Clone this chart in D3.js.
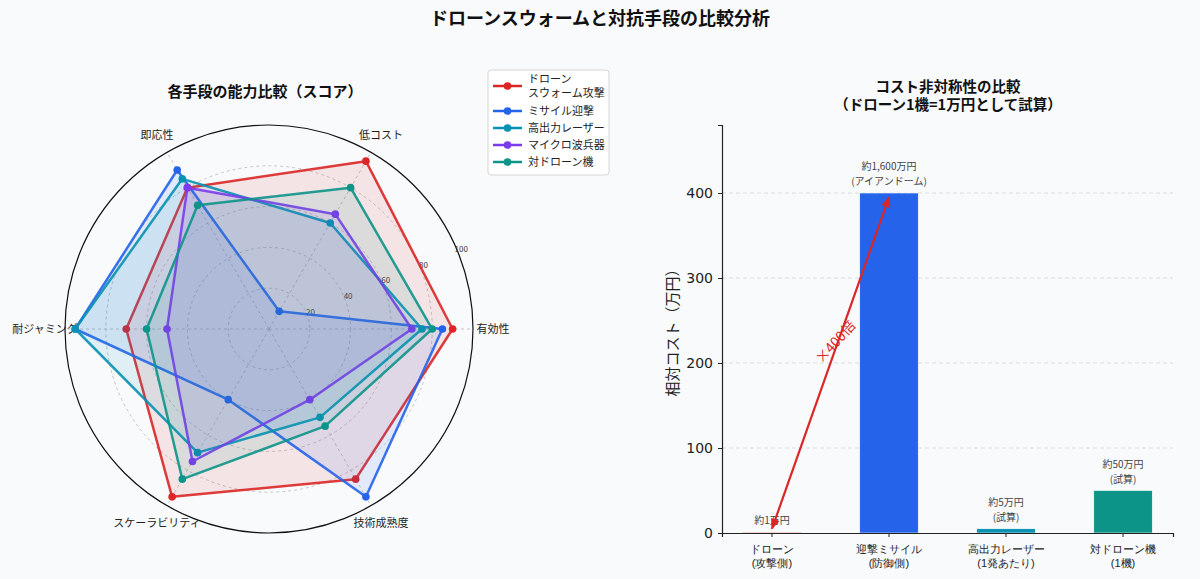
<!DOCTYPE html>
<html>
<head>
<meta charset="utf-8">
<script src="https://cdn.jsdelivr.net/npm/d3@7"></script>
<style>
  body { margin: 0; background: #f8fafc; }
  svg { display: block; font-family: "Noto Sans CJK JP", "Noto Sans", sans-serif; }
</style>
</head>
<body>
<svg id="chart" width="1200" height="579"></svg>
<script>
// レーダーチャートの軸
const radarAxes = ["有効性", "低コスト", "即応性", "耐ジャミング", "スケーラビリティ", "技術成熟度"];
const radarTicks = [20, 40, 60, 80, 100];

// 各手段のスコア
const seriesNames = ["ドローン\nスウォーム攻撃", "ミサイル迎撃", "高出力レーザー", "マイクロ波兵器", "対ドローン機"];
const seriesColors = ["#dc2626", "#2563eb", "#0891b2", "#7c3aed", "#0d9488"];
const swarmScores = [90, 95, 80, 70, 95, 85];
const missileScores = [85, 10, 90, 95, 40, 95];
const laserScores = [75, 60, 85, 95, 70, 50];
const microwaveScores = [70, 65, 80, 50, 75, 40];
const counterDroneScores = [80, 80, 70, 60, 85, 55];
const allScores = [swarmScores, missileScores, laserScores, microwaveScores, counterDroneScores];

// コスト比較
const costCategories = ["ドローン\n(攻撃側)", "迎撃ミサイル\n(防御側)", "高出力レーザー\n(1発あたり)", "対ドローン機\n(1機)"];
const costValues = [1, 400, 5, 50];
const costLabels = ["約1万円", "約1,600万円\n(アイアンドーム)", "約5万円\n(試算)", "約50万円\n(試算)"];
const costColors = ["#dc2626", "#2563eb", "#0891b2", "#0d9488"];
const costTicks = [0, 100, 200, 300, 400];
const arrowFrom = [0, 5];
const arrowTo = [1, 395];

const svg = d3.select("#chart");

svg.append("text")
    .attr("x", 600).attr("y", 25)
    .attr("text-anchor", "middle")
    .attr("font-size", 18).attr("font-weight", "bold")
    .attr("fill", "#111")
    .text("ドローンスウォームと対抗手段の比較分析");

// ---------- レーダー ----------
const cx = 269, cy = 329;
const rScale = d3.scaleLinear().domain([0, 100]).range([0, 204]);
const angle = i => i * Math.PI * 2 / radarAxes.length;   // 右から反時計回り
const px = (i, v) => cx + rScale(v) * Math.cos(angle(i));
const py = (i, v) => cy - rScale(v) * Math.sin(angle(i));

const radar = svg.append("g");

radar.append("text")
    .attr("x", 265).attr("y", 97)
    .attr("text-anchor", "middle")
    .attr("font-size", 15).attr("font-weight", "bold")
    .attr("fill", "#111")
    .text("各手段の能力比較（スコア）");

// 軸ラベル（多角形の下に描く）
radar.selectAll("text.axis-label")
    .data(radarAxes)
    .enter().append("text")
    .attr("class", "axis-label")
    .attr("x", (d, i) => cx + 224 * Math.cos(angle(i)))
    .attr("y", (d, i) => cy - 224 * Math.sin(angle(i)))
    .attr("dy", "0.35em")
    .attr("text-anchor", "middle")
    .attr("font-size", 11)
    .attr("fill", "#222")
    .text(d => d);

// グリッド
radar.selectAll("circle.ring")
    .data(radarTicks.slice(0, -1))
    .enter().append("circle")
    .attr("class", "ring")
    .attr("cx", cx).attr("cy", cy)
    .attr("r", d => rScale(d))
    .attr("fill", "none")
    .attr("stroke", "#b8b8b8")
    .attr("stroke-width", 0.8)
    .attr("stroke-dasharray", "3,3");

radar.selectAll("line.spoke")
    .data(radarAxes)
    .enter().append("line")
    .attr("class", "spoke")
    .attr("x1", cx).attr("y1", cy)
    .attr("x2", (d, i) => px(i, 100))
    .attr("y2", (d, i) => py(i, 100))
    .attr("stroke", "#b8b8b8")
    .attr("stroke-width", 0.8)
    .attr("stroke-dasharray", "3,3");

radar.append("circle")
    .attr("cx", cx).attr("cy", cy)
    .attr("r", rScale(100))
    .attr("fill", "none")
    .attr("stroke", "#111")
    .attr("stroke-width", 1.2);

const lblAngle = 22.5 * Math.PI / 180;
radar.selectAll("text.rtick")
    .data(radarTicks)
    .enter().append("text")
    .attr("class", "rtick")
    .attr("x", d => cx + (rScale(d) + 4) * Math.cos(lblAngle))
    .attr("y", d => cy - (rScale(d) + 4) * Math.sin(lblAngle))
    .attr("dy", "0.35em")
    .attr("text-anchor", "middle")
    .attr("font-size", 8)
    .attr("fill", "#333")
    .text(d => d);

const radialLine = d3.lineRadial()
    .angle((d, i) => Math.PI / 2 - angle(i))
    .radius(d => rScale(d))
    .curve(d3.curveLinearClosed);

const series = radar.selectAll("g.series")
    .data(allScores)
    .enter().append("g")
    .attr("class", "series")
    .attr("transform", `translate(${cx},${cy})`);

series.append("path")
    .attr("d", d => radialLine(d))
    .attr("fill", (d, i) => seriesColors[i])
    .attr("fill-opacity", 0.1)
    .attr("stroke", (d, i) => seriesColors[i])
    .attr("stroke-width", 2.5)
    .attr("stroke-linejoin", "round")
    .attr("stroke-opacity", 0.9);

series.each(function (scores, si) {
    d3.select(this).selectAll("circle")
        .data(scores)
        .enter().append("circle")
        .attr("cx", (v, i) => px(i, v) - cx)
        .attr("cy", (v, i) => py(i, v) - cy)
        .attr("r", 3.8)
        .attr("fill", seriesColors[si]);
});

// 凡例
const legend = svg.append("g").attr("transform", "translate(488,70)");
legend.append("rect")
    .attr("width", 121).attr("height", 105)
    .attr("rx", 3)
    .attr("fill", "#fff")
    .attr("stroke", "#ccc")
    .attr("stroke-width", 0.8);
const legendY = [16, 41, 58, 75, 92];
seriesNames.forEach((name, i) => {
    const item = legend.append("g").attr("transform", `translate(0,${legendY[i]})`);
    item.append("line")
        .attr("x1", 5).attr("x2", 34)
        .attr("stroke", seriesColors[i]).attr("stroke-width", 2.5);
    item.append("circle").attr("cx", 19.5).attr("r", 3.8).attr("fill", seriesColors[i]);
    const lines = name.split("\n");
    const t = item.append("text")
        .attr("x", 40)
        .attr("font-size", 11)
        .attr("fill", "#222");
    lines.forEach((ln, k) => {
        t.append("tspan")
            .attr("x", 40)
            .attr("y", (k - (lines.length - 1) / 2) * 14)
            .attr("dy", "0.35em")
            .text(ln);
    });
});

// ---------- 棒グラフ ----------
const x = d3.scaleBand()
    .domain(costCategories)
    .range([722, 1173])
    .paddingInner(0.5)
    .paddingOuter(0.177);
const y = d3.scaleLinear().domain([0, 480]).range([533, 125]);

const bar = svg.append("g");

const title = bar.append("text")
    .attr("text-anchor", "middle")
    .attr("font-size", 14.5).attr("font-weight", "bold")
    .attr("fill", "#111");
title.append("tspan").attr("x", 948).attr("y", 92).text("コスト非対称性の比較");
title.append("tspan").attr("x", 948).attr("y", 110).text("（ドローン1機=1万円として試算）");

bar.selectAll("line.grid")
    .data(costTicks.slice(1))
    .enter().append("line")
    .attr("class", "grid")
    .attr("x1", 722).attr("x2", 1173)
    .attr("y1", d => y(d)).attr("y2", d => y(d))
    .attr("stroke", "#d4d4d4")
    .attr("stroke-width", 0.8)
    .attr("stroke-dasharray", "4,3");

bar.selectAll("rect.bar")
    .data(costValues)
    .enter().append("rect")
    .attr("class", "bar")
    .attr("x", (d, i) => x(costCategories[i]))
    .attr("width", x.bandwidth())
    .attr("y", d => y(d))
    .attr("height", d => y(0) - y(d))
    .attr("fill", (d, i) => costColors[i])
    .attr("stroke", "#fff")
    .attr("stroke-width", 0.6);

// 値ラベル
costValues.forEach((v, i) => {
    const lines = costLabels[i].split("\n");
    const t = bar.append("text")
        .attr("text-anchor", "middle")
        .attr("font-size", 10)
        .attr("fill", "#444");
    lines.forEach((ln, k) => {
        t.append("tspan")
            .attr("x", x(costCategories[i]) + x.bandwidth() / 2)
            .attr("y", y(v) - 8 - (lines.length - 1 - k) * 15)
            .text(ln);
    });
});

// 軸
const xAxis = bar.append("g")
    .attr("transform", `translate(0,${y(0)})`)
    .call(d3.axisBottom(x).tickSize(4).tickFormat(""));
xAxis.select(".domain").attr("stroke", "#222").attr("stroke-width", 1.2);
xAxis.selectAll(".tick line").attr("stroke", "#222");
xAxis.selectAll(".tick").each(function (d) {
    const lines = d.split("\n");
    const t = d3.select(this).append("text")
        .attr("text-anchor", "middle")
        .attr("font-size", 11)
        .attr("fill", "#222");
    lines.forEach((ln, k) => {
        t.append("tspan").attr("x", 0).attr("y", 20 + k * 14).text(ln);
    });
});

const yAxis = bar.append("g")
    .attr("transform", "translate(722,0)")
    .call(d3.axisLeft(y).tickValues(costTicks).tickSize(4).tickPadding(5));
yAxis.select(".domain").attr("stroke", "#222").attr("stroke-width", 1.2);
yAxis.selectAll(".tick line").attr("stroke", "#222");
yAxis.selectAll(".tick text")
    .attr("font-size", 14)
    .attr("fill", "#222")
    .attr("font-family", "'DejaVu Sans', sans-serif");

bar.append("text")
    .attr("transform", `translate(678,${(y(0) + y(480)) / 2}) rotate(-90)`)
    .attr("text-anchor", "middle")
    .attr("font-size", 15)
    .attr("fill", "#222")
    .text("相対コスト（万円）");

// 倍率の矢印
const defs = svg.append("defs");
defs.append("marker")
    .attr("id", "head")
    .attr("viewBox", "0 0 10 10")
    .attr("refX", 9).attr("refY", 5)
    .attr("markerWidth", 5).attr("markerHeight", 5)
    .attr("orient", "auto-start-reverse")
    .append("path").attr("d", "M0,1 L10,5 L0,9 Z").attr("fill", "#dc2626");

const cxOf = i => x(costCategories[i]) + x.bandwidth() / 2;
const ax1 = cxOf(arrowFrom[0]), ay1 = y(arrowFrom[1]);
const ax2 = cxOf(arrowTo[0]), ay2 = y(arrowTo[1]);
bar.append("line")
    .attr("x1", ax1).attr("y1", ay1)
    .attr("x2", ax2).attr("y2", ay2)
    .attr("stroke", "#dc2626")
    .attr("stroke-width", 2.2)
    .attr("marker-start", "url(#head)")
    .attr("marker-end", "url(#head)");

bar.append("text")
    .attr("transform", `translate(${(ax1 + ax2) / 2 + 5},${(ay1 + ay2) / 2 - 21}) rotate(-48)`)
    .attr("text-anchor", "middle")
    .attr("dy", "0.35em")
    .attr("font-size", 14)
    .attr("fill", "#dc2626")
    .text("×400倍");
</script>
</body>
</html>
